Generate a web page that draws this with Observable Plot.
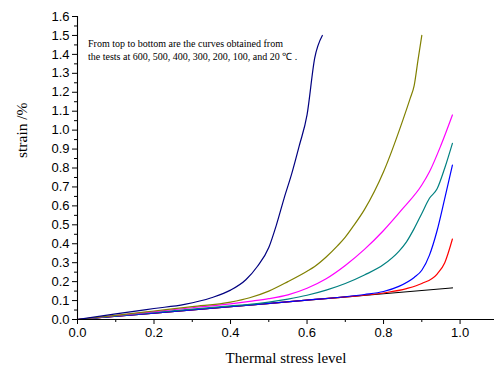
<!DOCTYPE html>
<html><head><meta charset="utf-8">
<script src="https://cdn.jsdelivr.net/npm/d3@7"></script>
<script src="https://cdn.jsdelivr.net/npm/@observablehq/plot@0.6"></script>
<style>body{margin:0;background:#fff}#chart svg{display:block}</style>
</head><body><div id="chart"></div>
<script>
// Series: temperature (°C), colour, stress level (x) and strain % (y)
const temps = ["20", "100", "200", "300", "400", "500", "600"];
const seriesColors = ["#000000", "#ff0000", "#0000ff", "#008080", "#ff00ff", "#808000", "#000080"];

const level20 = [0, 0.2, 0.4, 0.6, 0.8, 0.98];
const strain20 = [0, 0.034, 0.068, 0.102, 0.136, 0.167];

const level100 = [0, 0.2, 0.4, 0.6, 0.7, 0.8, 0.86, 0.9, 0.94, 0.96, 0.98];
const strain100 = [0, 0.034, 0.068, 0.102, 0.119, 0.14, 0.163, 0.19, 0.24, 0.3, 0.425];

const level200 = [0, 0.2, 0.4, 0.6, 0.7, 0.75, 0.8, 0.84, 0.88, 0.9, 0.92, 0.94, 0.96, 0.98];
const strain200 = [0, 0.034, 0.068, 0.102, 0.12, 0.132, 0.148, 0.175, 0.222, 0.26, 0.34, 0.47, 0.64, 0.815];

const level300 = [0, 0.2, 0.4, 0.45, 0.5, 0.55, 0.6, 0.65, 0.7, 0.75, 0.8, 0.84, 0.86, 0.88, 0.9, 0.92, 0.94, 0.96, 0.98];
const strain300 = [0, 0.038, 0.072, 0.08, 0.092, 0.108, 0.128, 0.155, 0.19, 0.235, 0.29, 0.36, 0.41, 0.48, 0.56, 0.64, 0.69, 0.8, 0.93];

const level400 = [0, 0.1, 0.2, 0.3, 0.4, 0.45, 0.5, 0.55, 0.6, 0.65, 0.7, 0.75, 0.8, 0.85, 0.9, 0.92, 0.95, 0.98];
const strain400 = [0, 0.021, 0.042, 0.062, 0.083, 0.096, 0.11, 0.13, 0.165, 0.215, 0.285, 0.37, 0.47, 0.585, 0.71, 0.78, 0.92, 1.08];

const level500 = [0, 0.1, 0.2, 0.3, 0.4, 0.45, 0.5, 0.55, 0.6, 0.62, 0.65, 0.68, 0.7, 0.72, 0.75, 0.8, 0.85, 0.87, 0.88, 0.89, 0.9];
const strain500 = [0, 0.022, 0.045, 0.068, 0.092, 0.115, 0.15, 0.2, 0.255, 0.28, 0.33, 0.39, 0.435, 0.49, 0.58, 0.78, 1.05, 1.17, 1.235, 1.37, 1.5];

const level600 = [0, 0.1, 0.2, 0.28, 0.35, 0.4, 0.44, 0.47, 0.5, 0.52, 0.54, 0.56, 0.58, 0.6, 0.62, 0.64];
const strain600 = [0, 0.03, 0.058, 0.08, 0.115, 0.155, 0.21, 0.28, 0.38, 0.5, 0.64, 0.77, 0.92, 1.08, 1.38, 1.5];

const xTickValues = [0, 0.2, 0.4, 0.6, 0.8, 1.0];
const xMinorTicks = [0.1, 0.3, 0.5, 0.7, 0.9];
const yTickValues = [0, 0.1, 0.2, 0.3, 0.4, 0.5, 0.6, 0.7, 0.8, 0.9, 1.0, 1.1, 1.2, 1.3, 1.4, 1.5, 1.6];
const yMinorTicks = [0.05, 0.15, 0.25, 0.35, 0.45, 0.55, 0.65, 0.75, 0.85, 0.95, 1.05, 1.15, 1.25, 1.35, 1.45, 1.55];

const xLabel = "Thermal stress level";
const yLabel = "strain /%";
const noteLines = [
  "From top to bottom are the curves obtained from",
  "the tests at 600, 500, 400, 300, 200, 100, and 20 \u2103 ."
];

const levels = [level20, level100, level200, level300, level400, level500, level600];
const strains = [strain20, strain100, strain200, strain300, strain400, strain500, strain600];
const rows = [];
temps.forEach((t, i) => levels[i].forEach((x, j) => rows.push({temp: t, x, y: strains[i][j]})));

const serif = "'Liberation Serif', 'Times New Roman', serif";

const chart = Plot.plot({
  width: 494,
  height: 370,
  marginLeft: 77,
  marginRight: 0,
  marginTop: 16,
  marginBottom: 51,
  style: {fontFamily: "'Liberation Sans', Arial, sans-serif", fontSize: "13px", color: "#000", background: "#fff"},
  x: {domain: [0, 1.09], axis: null},
  y: {domain: [0, 1.6], axis: null},
  color: {domain: temps, range: seriesColors},
  marks: [
    Plot.lineY(rows, {x: "x", y: "y", z: "temp", stroke: "temp", strokeWidth: 1.2, curve: "monotone-x"}),
    Plot.ruleY([0], {stroke: "#000", strokeWidth: 1.1}),
    Plot.ruleX([0], {stroke: "#000", strokeWidth: 1.1}),
    Plot.axisX(xTickValues, {tickSize: 5, tickPadding: 3, tickFormat: d3.format(".1f"), label: null, fontSize: 13}),
    Plot.axisX(xMinorTicks, {tickSize: 3, tickFormat: () => "", label: null}),
    Plot.axisY(yTickValues, {tickSize: 5, tickPadding: 3, tickFormat: d3.format(".1f"), label: null, fontSize: 13}),
    Plot.axisY(yMinorTicks, {tickSize: 3, tickFormat: () => "", label: null}),
    Plot.text([xLabel], {frameAnchor: "bottom", dy: 39, lineAnchor: "middle", fontFamily: serif, fontSize: 15}),
    Plot.text([yLabel], {frameAnchor: "left", dx: -55, dy: -10, rotate: -90, lineAnchor: "middle", fontFamily: serif, fontSize: 15.5}),
    Plot.text([noteLines[0]], {frameAnchor: "top-left", dx: 10.5, dy: 27, textAnchor: "start", lineAnchor: "middle", fontFamily: serif, fontSize: 10}),
    Plot.text([noteLines[1]], {frameAnchor: "top-left", dx: 10.5, dy: 40, textAnchor: "start", lineAnchor: "middle", fontFamily: serif, fontSize: 10})
  ]
});
document.getElementById("chart").appendChild(chart);
</script>
</body></html>
